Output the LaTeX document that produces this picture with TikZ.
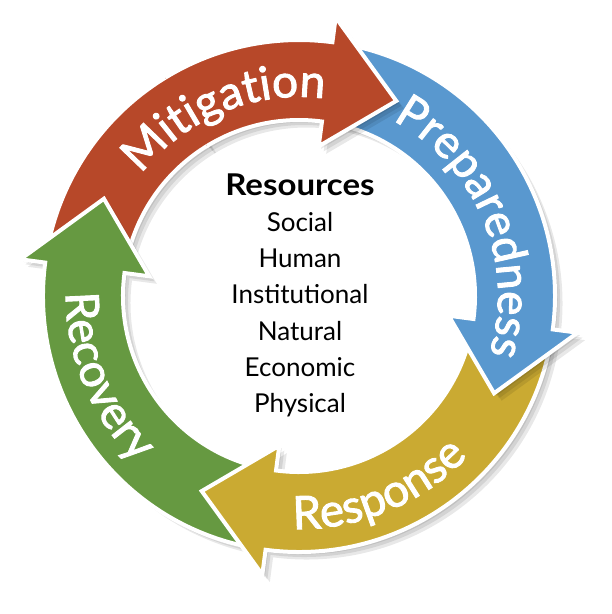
\documentclass[tikz,border=0pt]{standalone}
\usepackage{fontspec}
\setmainfont{Lato}
\newfontfamily\ringfont[FakeBold=2]{Lato}
\newfontfamily\titlefont[FakeStretch=1.1]{Lato}
\usetikzlibrary{positioning, decorations.text}

\definecolor{mitired}{RGB}{183,72,41}
\definecolor{prepblue}{RGB}{89,152,207}
\definecolor{respyellow}{RGB}{202,170,50}
\definecolor{recgreen}{RGB}{102,153,65}

\begin{document}
\begin{tikzpicture}[
    x=1pt, y=1pt,
    ringshadow/.style={
        preaction={fill=black, fill opacity=.09, draw=none, transform canvas={shift={(7.5,-7.5)}}},
        preaction={fill=black, fill opacity=.09, draw=none, transform canvas={shift={(5,-5)}}},
        preaction={fill=black, fill opacity=.09, draw=none, transform canvas={shift={(2.5,-2.5)}}}},
    ringarrow/.style 2 args={insert path={(#1:176) arc[start angle=#1, end angle=#2, radius=176]
        -- (#2:151) -- (#2-19:218) -- (#2:281) -- (#2:256) arc[start angle=#2, end angle=#1, radius=256]}},
    border/.style={draw=white, line width=4, line join=miter},
    ringlabel/.style={decorate, decoration={text along path, text align=center, text color=white,
        text={|\ringfont\fontsize{46}{52}\selectfont|#1}}},
    title/.style={font=\titlefont\fontsize{30}{34}\selectfont\bfseries, anchor=base, inner sep=0pt},
    item/.style={font=\fontsize{26}{30}\selectfont, anchor=base, inner sep=0pt}
]
\useasboundingbox (-299,-318) rectangle (313,296);

% Mitigation, first part (lies under the Recovery head)
\fill[mitired, ringshadow] (121:176) arc[start angle=121, end angle=169.5, radius=176]
    -- (169.5:256) arc[start angle=169.5, end angle=121, radius=256] -- cycle;
\draw[border] (121:176) arc[start angle=121, end angle=169.5, radius=176]
    -- (169.5:256) arc[start angle=169.5, end angle=121, radius=256];

% the other three arrows, each over the start of the next one
\path[fill=recgreen, border, ringshadow, ringarrow={259.5}{172.5}] -- cycle;
\path[fill=respyellow, border, ringshadow, ringarrow={-10.5}{-97.5}] -- cycle;
\path[fill=prepblue, border, ringshadow, ringarrow={79.5}{-7.5}] -- cycle;

% Mitigation, second part with its head
\fill[mitired, ringshadow, ringarrow={121.5}{82.5}] -- cycle;
\draw[border, ringarrow={121.5}{82.5}];

% labels on the ring
\path[ringlabel=Mitigation] (157.5:199) arc[start angle=157.5, end angle=67.5, radius=199];
\path[ringlabel=Preparedness] (67.5:199) arc[start angle=67.5, end angle=-22.5, radius=199];
\path[ringlabel=Response] (-112.5:233) arc[start angle=-112.5, end angle=-22.5, radius=233];
\path[ringlabel=Recovery] (157.5:233) arc[start angle=157.5, end angle=247.5, radius=233];

% resources in the middle
\node[title] (res) at (1,101) {Resources};
\node[item, below=36.3pt of res.base, anchor=base] (social) {Social};
\node[item, below=36.3pt of social.base, anchor=base] (human) {Human};
\node[item, below=36.3pt of human.base, anchor=base] (inst) {Institutional};
\node[item, below=36.3pt of inst.base, anchor=base] (natural) {Natural};
\node[item, below=36.3pt of natural.base, anchor=base] (econ) {Economic};
\node[item, below=36.3pt of econ.base, anchor=base] (phys) {Physical};

\end{tikzpicture}
\end{document}
